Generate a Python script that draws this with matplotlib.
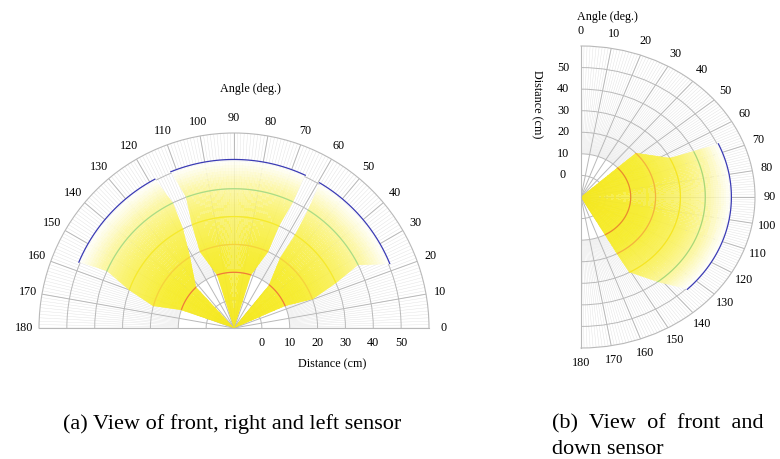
import numpy as np
import matplotlib.pyplot as plt
from matplotlib.colors import LinearSegmentedColormap, Normalize

plt.rcParams['font.family'] = ['Liberation Serif', 'DejaVu Serif']

# beam outline of every sensor: edge angles (deg) at each distance step (cm)
dist_steps = [10, 20, 30, 40, 50.5]

front_lo = [72, 66, 66, 65, 65]
front_hi = [108, 114, 112, 110, 112]
right_lo = [23, 20, 24, 27, 22.5]
right_hi = [51, 56.5, 57, 58, 59.5]
left_lo = [133, 122, 117, 116, 118]
left_hi = [161, 165, 160, 156, 157]

down_lo = [47, 47, 63, 65, 66]
down_hi = [151, 151, 151, 142, 135]

angle_ticks = list(range(0, 181, 10))
dist_ticks = [0, 10, 20, 30, 40, 50]
contour_levels = [10, 20, 30, 40]

r_min, r_max = -10, 60
grid_col = '#b9b9b9'
fs = 8.7
fade = LinearSegmentedColormap.from_list(
    'fade', [(0.0, (0.96, 0.91, 0.12, 0.80)), (0.45, (0.97, 0.93, 0.20, 0.80)),
             (0.7, (0.98, 0.95, 0.40, 0.80)), (0.86, (0.99, 0.97, 0.65, 0.82)),
             (1.0, (1.0, 1.0, 1.0, 0.85))])


def outline(lo, hi):
    arc = np.linspace(lo[-1], hi[-1], 120)
    th = [(lo[0] + hi[0]) / 2] + lo[:-1] + list(arc) + hi[:-1][::-1]
    r = [r_min] + dist_steps[:-1] + [dist_steps[-1]] * len(arc) + dist_steps[:-1][::-1]
    return np.radians(th), np.array(r, dtype=float)


def setup(ax, clockwise):
    ax.set_thetamin(0)
    ax.set_thetamax(180)
    if clockwise:
        ax.set_theta_zero_location('N')
        ax.set_theta_direction(-1)
    ax.set_rlim(r_min, r_max)
    ax.set_rticks(dist_ticks)
    ax.set_yticklabels([])
    ax.set_thetagrids(angle_ticks, [str(a) for a in angle_ticks])
    ax.grid(color=grid_col, lw=0.7)
    ax.set_axisbelow(True)
    ax.tick_params(axis='y', length=0)
    ax.tick_params(axis='x', pad=3.5, labelsize=fs, length=0)
    for s in ax.spines.values():
        s.set_color(grid_col)
        s.set_linewidth(0.8)
    # fine 1-degree rays
    ax.vlines(np.radians(np.arange(0, 181)), 10, r_max, color='#e0e0e0', lw=0.3, zorder=0.4)


def draw_beam(ax, lo, hi, ring_cols):
    th, r = outline(lo, hi)
    poly = ax.fill(th, r, facecolor='none', edgecolor='none')[0]
    T = np.radians(np.linspace(0, 180, 361))
    R = np.linspace(r_min, dist_steps[-1] + 1, 62)
    C = np.tile(((R[:-1] + R[1:]) / 2)[:, None], (1, len(T) - 1))
    mesh = ax.pcolormesh(T, R, C, cmap=fade, norm=Normalize(r_min, dist_steps[-1]),
                         shading='flat', antialiased=False, edgecolors='none', zorder=2)
    mesh.set_clip_path(poly)
    full = np.radians(np.linspace(0, 180, 721))
    for lev, col in zip(contour_levels, ring_cols):
        ln, = ax.plot(full, np.full_like(full, lev), color=col, lw=0.9, zorder=3)
        ln.set_clip_path(poly)
    arc = np.radians(np.linspace(lo[-1], hi[-1], 120))
    ax.plot(arc, np.full_like(arc, dist_steps[-1]), color='#3b3bb4', lw=0.9, zorder=3)


fig = plt.figure(figsize=(7.8, 4.59), dpi=100)
W, H = 780, 459

# (a) front, right and left sensor -- polar box is square around the half disc
ra = 195
ax1 = fig.add_axes([(234 - ra) / W, (H - 328 - ra / 2) / H, 2 * ra / W, 2 * ra / H],
                   projection='polar')
setup(ax1, clockwise=False)
cols_a = ['#f07a3a', '#f6d23c', '#f6ea2a', '#a9dc86']
for lo, hi in [(front_lo, front_hi), (right_lo, right_hi), (left_lo, left_hi)]:
    draw_beam(ax1, lo, hi, cols_a)
for d in dist_ticks:
    ax1.annotate(str(d), xy=(0, d), xytext=(0, -15), textcoords='offset pixels',
                 ha='center', va='center', fontsize=fs)

# (b) front and down sensor -- stretched horizontally
rx, ry = 174, 151
ax2 = fig.add_axes([(581 - rx / 2) / W, (H - 197 - ry) / H, 2 * rx / W, 2 * ry / H],
                   projection='polar')
setup(ax2, clockwise=True)
ax2.set_aspect('auto')
cols_b = ['#ea8a2e', '#f4b23e', '#f6e622', '#a8d878']
draw_beam(ax2, down_lo, down_hi, cols_b)
for d in dist_ticks:
    ax2.annotate(str(d), xy=(0, d), xytext=(-18, 0), textcoords='offset pixels',
                 ha='center', va='center', fontsize=fs)

fig.text(250 / W, 1 - 89 / H, 'Angle (deg.)', ha='center', va='center', fontsize=fs)
fig.text(332 / W, 1 - 364 / H, 'Distance (cm)', ha='center', va='center', fontsize=fs)
fig.text(607 / W, 1 - 17 / H, 'Angle (deg.)', ha='center', va='center', fontsize=fs)
fig.text(537 / W, 1 - 104 / H, 'Distance (cm)', ha='center', va='center', fontsize=fs,
         rotation=-90)

fig.text(232 / W, 1 - 424 / H, '(a) View of front, right and left sensor',
         ha='center', va='center', fontsize=16)
fig.text(552 / W, 1 - 424 / H, '(b)  View  of  front  and', ha='left', va='center', fontsize=16)
fig.text(552 / W, 1 - 449 / H, 'down sensor', ha='left', va='center', fontsize=16)

fig.savefig('out.png', dpi=100)
